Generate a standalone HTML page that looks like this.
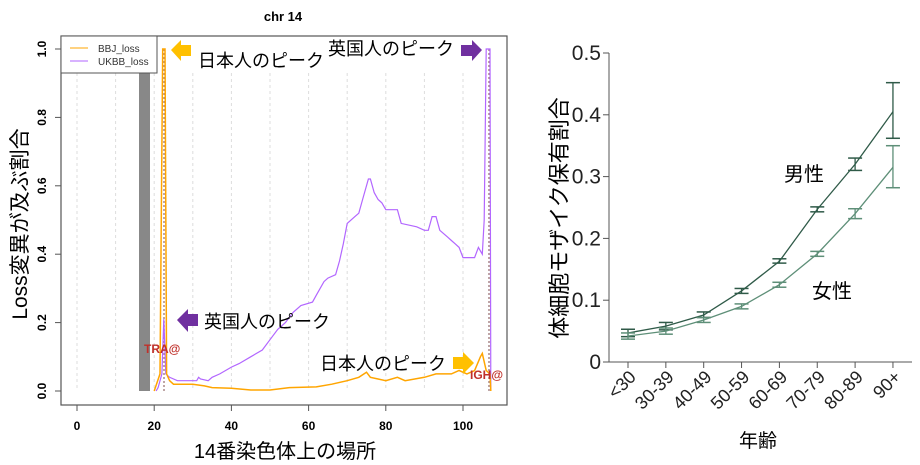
<!DOCTYPE html><html><head><meta charset="utf-8"><style>body{margin:0;background:#fff}svg{display:block;font-family:"Liberation Sans","Noto Sans CJK JP",sans-serif}</style></head><body>
<svg id="s" width="920" height="465" viewBox="0 0 920 465">
<rect width="920" height="465" fill="#fff"/>
<text x="283" y="21" font-size="13" font-weight="bold" text-anchor="middle">chr 14</text>
<g id="grid" stroke="#ddd" stroke-dasharray="3,3"></g>
<rect x="139" y="73" width="11" height="318" fill="#888"/>
<rect x="61" y="36" width="446" height="369" fill="none" stroke="#555" stroke-width="1.2"/>
<rect x="61" y="36" width="96" height="37" fill="#fff" stroke="#555"/>
<line x1="70" y1="48" x2="88" y2="48" stroke="#FFA500"/><text x="98" y="52" font-size="10" fill="#333">BBJ_loss</text>
<line x1="70" y1="61" x2="88" y2="61" stroke="#B266FF"/><text x="98" y="65" font-size="10" fill="#333">UKBB_loss</text>
<line x1="164" y1="49" x2="164" y2="391" stroke="#a88" stroke-dasharray="2,2" stroke-width="1.5"/>
<line x1="489" y1="49" x2="489" y2="391" stroke="#a88" stroke-dasharray="2,2" stroke-width="1.5"/>
<polyline id="uk" fill="none" stroke="#B266FF" stroke-width="1.2"/>
<polyline id="bb" fill="none" stroke="#FFA500" stroke-width="1.5"/>
<g id="ax" font-size="12" font-weight="bold"></g>
<text x="144" y="353" font-size="12" font-weight="bold" fill="#C0302A">TRA@</text>
<text x="470" y="379" font-size="12" font-weight="bold" fill="#C0302A">IGH@</text>
<g font-size="18">
<polygon points="171,50 181,40 181,45 191,45 191,56 181,56 181,61" fill="#FFC000"/>
<text x="198" y="67">日本人のピーク</text>
<text x="328" y="55">英国人のピーク</text>
<polygon points="482,50 472,40 472,45 461,45 461,56 472,56 472,61" fill="#7030A0"/>
<polygon points="177,320 188,309 188,314 198,314 198,326 188,326 188,332" fill="#7030A0"/>
<text x="204" y="328">英国人のピーク</text>
<text x="320" y="370">日本人のピーク</text>
<polygon points="474,363 463,352 463,357 453,357 453,369 463,369 463,374" fill="#FFC000"/>
</g>
<text x="285" y="458" font-size="20" text-anchor="middle">14番染色体上の場所</text>
<text transform="translate(27,224) rotate(-90)" font-size="21" text-anchor="middle">Loss変異が及ぶ割合</text>
<g stroke="#555" fill="none"><polyline points="609,53 609,362 912,362"/></g>
<g id="rax" font-size="21" fill="#222"></g>
<g id="rs"></g>
<text x="784" y="181" font-size="20">男性</text>
<text x="812" y="298" font-size="20">女性</text>
<text x="758" y="447" font-size="19" text-anchor="middle">年齢</text>
<text transform="translate(567,218) rotate(-90)" font-size="22" text-anchor="middle">体細胞モザイク保有割合</text>
</svg>
<script>
const NS="http://www.w3.org/2000/svg";
function el(p,t,a,txt){const e=document.createElementNS(NS,t);for(const k in a)e.setAttribute(k,a[k]);if(txt!=null)e.textContent=txt;document.querySelector(p).appendChild(e);return e;}
const X=v=>77+3.86*v,Y=v=>391-342*v;
for(let i=0;i<=100;i+=10)el("#grid","line",{x1:X(i),y1:73,x2:X(i),y2:391});
const uk=[[20.5,0],[21,0.01],[22,0.05],[22.5,0.21],[23,0.05],[24,0.04],[26,0.03],[31,0.03],[31.5,0.04],[32,0.035],[34,0.03],[35,0.04],[37,0.05],[40,0.07],[42,0.08],[45,0.1],[48,0.12],[50,0.15],[52,0.18],[54,0.2],[56,0.23],[58,0.25],[61,0.26],[62,0.28],[64,0.32],[65,0.33],[67,0.34],[68,0.38],[69,0.43],[70,0.49],[72,0.51],[73,0.52],[74,0.56],[75.5,0.62],[76,0.62],[77,0.58],[78,0.56],[79,0.55],[80,0.53],[83,0.53],[84,0.49],[88,0.48],[90,0.47],[91,0.47],[92,0.51],[93,0.51],[94,0.47],[95,0.46],[96,0.45],[97,0.44],[98,0.43],[99,0.42],[100,0.39],[103,0.39],[104,0.42],[105,0.4],[105.5,0.5],[106,1.0],[107,1.0],[107.2,0]];
const bb=[[20,0],[21.5,0.05],[22.2,1.0],[22.8,1.0],[23.2,0.05],[24,0.03],[25,0.02],[30,0.02],[33,0.015],[35,0.01],[40,0.008],[45,0.003],[50,0.003],[55,0.01],[62,0.012],[66,0.02],[70,0.03],[73,0.04],[75,0.055],[76,0.04],[78,0.035],[80,0.03],[83,0.04],[85,0.03],[90,0.04],[93,0.05],[97,0.05],[99,0.06],[101,0.05],[103,0.06],[104.5,0.1],[105,0.11],[106,0.06],[107,0.05],[107.2,0]];
document.getElementById("uk").setAttribute("points",uk.map(p=>X(p[0]).toFixed(1)+","+Y(p[1]).toFixed(1)).join(" "));
document.getElementById("bb").setAttribute("points",bb.map(p=>X(p[0]).toFixed(1)+","+Y(p[1]).toFixed(1)).join(" "));
for(let i=0;i<=100;i+=20){el("#ax","line",{x1:X(i),y1:405,x2:X(i),y2:411,stroke:"#555"});el("#ax","text",{x:X(i),y:430,"text-anchor":"middle"},i);}
for(let i=0;i<=5;i++){const v=i*0.2,y=Y(v);el("#ax","line",{x1:55,y1:y,x2:61,y2:y,stroke:"#555"});el("#ax","text",{transform:`translate(46,${y}) rotate(-90)`,"text-anchor":"middle"},v.toFixed(1));}
const RY=v=>362-618*v,RX=i=>628+37.85*i;
for(let i=0;i<=5;i++){const v=i/10,y=RY(v);el("#rax","line",{x1:603,y1:y,x2:609,y2:y,stroke:"#555"});el("#rax","text",{x:601,y:y+7,"text-anchor":"end"},i?v.toFixed(1):"0");}
const labs=["<30","30-39","40-49","50-59","60-69","70-79","80-89","90+"];
labs.forEach((l,i)=>{el("#rax","line",{x1:RX(i),y1:362,x2:RX(i),y2:368,stroke:"#555"});el("#rax","text",{transform:`translate(${RX(i)+9},${378}) rotate(-45)`,"text-anchor":"end","font-size":"18"},l);});
const m=[[.047,.041,.053],[.058,.052,.064],[.076,.072,.081],[.115,.111,.119],[.163,.16,.167],[.247,.243,.251],[.32,.31,.33],[.405,.362,.452]];
const f=[[.042,.037,.047],[.05,.045,.055],[.068,.064,.072],[.09,.086,.094],[.125,.121,.129],[.175,.171,.179],[.24,.232,.248],[.315,.282,.35]];
function ser(d,c){el("#rs","polyline",{points:d.map((p,i)=>RX(i)+","+RY(p[0])).join(" "),fill:"none",stroke:c,"stroke-width":1.3});
d.forEach((p,i)=>{const x=RX(i);el("#rs","line",{x1:x,y1:RY(p[1]),x2:x,y2:RY(p[2]),stroke:c,"stroke-width":1.3});[1,2].forEach(k=>el("#rs","line",{x1:x-7,y1:RY(p[k]),x2:x+7,y2:RY(p[k]),stroke:c,"stroke-width":1.5}));});}
ser(m,"#2F5A48");ser(f,"#5E8F78");
</script>
</body></html>
